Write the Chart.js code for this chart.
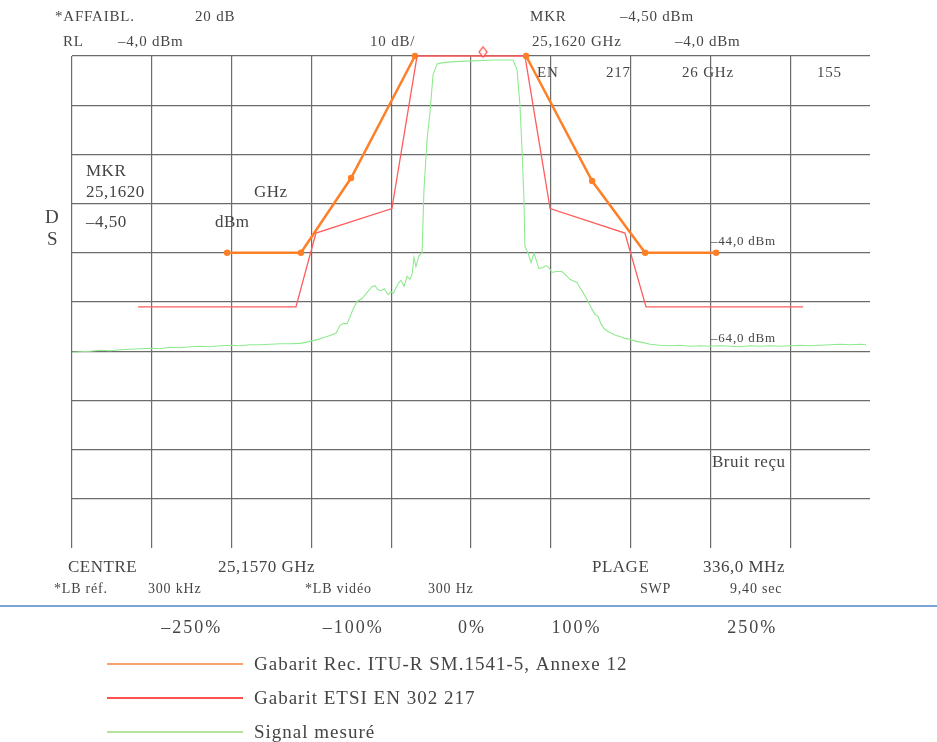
<!DOCTYPE html>
<html>
<head>
<meta charset="utf-8">
<script src="https://cdn.jsdelivr.net/npm/chart.js@4.4.0/dist/chart.umd.min.js"></script>
<style>
  html, body { margin: 0; padding: 0; background: #fff; }
  #wrap { position: relative; width: 937px; height: 742px; }
</style>
</head>
<body>
<div id="wrap"><canvas id="spectrum"></canvas></div>
<script>
// frequency offset from centre (MHz), level (dBm)
const sm1541Freq  = [-102.7, -71.6, -50.5, -23.6, 0, 23.2, 51.0, 73.3, 103.2];
const sm1541Level = [-44, -44, -28.8, -4, null, -4, -29.4, -44, -44];

const etsiFreq  = [-140.2, -73.7, -65.3, -33.3, -22.7, 22.7, 33.3, 64.8, 73.7, 139.8];
const etsiLevel = [-55, -55, -40, -35, -4, -4, -35, -40, -55, -55];

const signalFreq = [
  -168.0, -164.6, -160.4, -156.2, -152.0, -147.8, -143.6, -139.4, -134.3, -131.0,
  -126.8, -122.5, -118.3, -114.1, -109.9, -105.7, -100.6, -97.3, -93.1, -88.9,
  -84.6, -80.4, -76.2, -72.0, -69.5, -67.0, -64.4, -61.9, -59.4, -56.8,
  -55.2, -53.9, -52.2, -51.0, -49.7, -48.0, -45.9, -43.8, -41.7, -40.4,
  -39.2, -37.9, -36.6, -34.9, -33.7, -32.8, -31.6, -30.3, -29.5, -28.2,
  -26.9, -25.7, -24.8, -24.0, -23.2, -21.9, -20.6, -19.8, -18.5, -17.3,
  -16.0, -14.3, -12.2, -8.8, -4.6, 0, 5.1, 10.1, 14.3, 17.7,
  19.4, 20.6, 21.5, 22.3, 22.7, 24.0, 25.3, 26.5, 27.8, 28.6,
  30.3, 31.6, 32.8, 34.1, 35.8, 38.3, 40.0, 41.7, 43.4, 44.6,
  45.9, 47.2, 48.4, 49.7, 51.0, 52.2, 53.5, 54.7, 56.0, 57.7,
  59.4, 61.1, 62.7, 64.8, 67.0, 69.5, 72.0, 75.4, 79.6, 83.8,
  88.0, 92.2, 96.4, 100.6, 104.9, 109.1, 113.3, 117.5, 121.7, 125.9,
  130.1, 134.3, 138.5, 142.8, 147.0, 151.2, 155.4, 159.6, 163.8, 166.3
];
const signalLevel = [
  -64.2, -64.1, -64.0, -63.8, -63.9, -63.7, -63.6, -63.5, -63.4, -63.5,
  -63.2, -63.3, -63.1, -63.0, -63.1, -62.9, -62.8, -62.9, -62.7, -62.7,
  -62.6, -62.5, -62.5, -62.4, -62.2, -61.9, -61.6, -61.2, -60.8, -60.3,
  -58.8, -58.4, -58.4, -57.1, -55.5, -53.9, -53.3, -52.1, -50.9, -50.7,
  -51.5, -51.7, -51.3, -52.5, -51.9, -52.3, -51.1, -50.0, -49.6, -50.8,
  -48.8, -49.4, -48.4, -45.0, -46.8, -44.6, -44.0, -31.2, -21.0, -15.6,
  -7.9, -5.6, -5.4, -5.2, -5.1, -5.0, -4.9, -4.8, -4.8, -4.8,
  -6.8, -13.9, -23.1, -33.2, -42.7, -44.0, -46.0, -44.0, -46.0, -47.2,
  -47.0, -46.6, -47.0, -48.0, -47.8, -47.8, -48.6, -49.4, -49.8, -50.0,
  -51.1, -52.1, -53.1, -54.3, -55.5, -56.5, -56.9, -58.4, -59.4, -60.0,
  -60.4, -60.8, -61.0, -61.4, -61.6, -62.0, -62.2, -62.6, -62.8, -62.9,
  -62.8, -63.0, -62.9, -63.0, -62.9, -63.0, -63.1, -62.9, -63.0, -62.9,
  -63.0, -62.9, -62.8, -62.9, -62.8, -62.7, -62.6, -62.7, -62.6, -62.7
];

const markerFreq  = [5.1];
const markerLevel = [-4.5];

// 10 divisions of 33,6 MHz and 10 dB/div, RL -4 dBm
const xGridTicks = [-168, -134.4, -100.8, -67.2, -33.6, 0, 33.6, 67.2, 100.8, 134.4];
const yGridTicks = [-4, -14, -24, -34, -44, -54, -64, -74, -84, -94];

const pctLabels = ['–250%', '–100%', '0%', '100%', '250%'];
const pctFreq   = [-118, -50, 0, 44, 118];

const seriesLabels = [
  'Gabarit Rec. ITU-R SM.1541-5, Annexe 12',
  'Gabarit ETSI EN 302 217',
  'Signal mesuré'
];

const pts = (xs, ys) => xs.map((x, i) => ({x: x, y: ys[i]}));

// marker diamond drawn above the trace point
const markerImg = document.createElement('canvas');
markerImg.width = 12;
markerImg.height = 26;
(function () {
  const c = markerImg.getContext('2d');
  c.beginPath();
  c.moveTo(6, 1.5);
  c.lineTo(10, 6.5);
  c.lineTo(6, 11.5);
  c.lineTo(2, 6.5);
  c.closePath();
  c.fillStyle = '#fff';
  c.fill();
  c.strokeStyle = '#ff3b3b';
  c.lineWidth = 1.2;
  c.stroke();
})();

const textColor = '#454545';
const serif = '"Liberation Serif", "Times New Roman", serif';

const notes = [
  ['*AFFAIBL.', 55, 21, 15], ['20 dB', 195, 21, 15], ['MKR', 530, 21, 15], ['–4,50 dBm', 620, 21, 15],
  ['RL', 63, 46, 15], ['–4,0 dBm', 118, 46, 15], ['10 dB/', 370, 46, 15],
  ['25,1620 GHz', 532, 46, 15], ['–4,0 dBm', 675, 46, 15],
  ['EN', 537, 77, 15], ['217', 606, 77, 15], ['26 GHz', 682, 77, 15], ['155', 817, 77, 15],
  ['MKR', 86, 176, 17], ['25,1620', 86, 197, 17], ['GHz', 254, 197, 17],
  ['–4,50', 86, 227, 17], ['dBm', 215, 227, 17],
  ['D', 45, 223, 19], ['S', 47, 245, 19],
  ['–44,0 dBm', 711, 245, 13], ['–64,0 dBm', 711, 342, 13],
  ['Bruit reçu', 712, 467, 17],
  ['CENTRE', 68, 572, 17], ['25,1570 GHz', 218, 572, 17], ['PLAGE', 592, 572, 17], ['336,0 MHz', 703, 572, 17],
  ['*LB réf.', 54, 593, 14], ['300 kHz', 148, 593, 14], ['*LB vidéo', 305, 593, 14],
  ['300 Hz', 428, 593, 14], ['SWP', 640, 593, 14], ['9,40 sec', 730, 593, 14]
];

const legendColors = ['#f6a46c', '#ff4f4f', '#b6e2a0'];

const overlay = {
  id: 'overlay',
  afterDraw(chart) {
    const ctx = chart.ctx;
    ctx.save();
    ctx.fillStyle = textColor;
    ctx.textBaseline = 'alphabetic';
    ctx.textAlign = 'left';

    notes.forEach(n => {
      ctx.font = n[3] + 'px ' + serif;
      ctx.letterSpacing = n[3] >= 17 ? '0.5px' : '0.8px';
      ctx.fillText(n[0], n[1], n[2]);
    });

    // separator
    ctx.strokeStyle = '#4f86c6';
    ctx.lineWidth = 1.6;
    ctx.beginPath();
    ctx.moveTo(0, 606);
    ctx.lineTo(937, 606);
    ctx.stroke();

    // percent labels
    const xs = chart.scales.x;
    ctx.font = '18px ' + serif;
    ctx.letterSpacing = '2px';
    ctx.textAlign = 'center';
    pctLabels.forEach((t, i) => {
      ctx.fillText(t, xs.getPixelForValue(pctFreq[i]) + 1, 633);
    });

    // legend
    ctx.textAlign = 'left';
    ctx.font = '19px ' + serif;
    ctx.letterSpacing = '1px';
    seriesLabels.forEach((t, i) => {
      const y = 664 + i * 34;
      ctx.strokeStyle = legendColors[i];
      ctx.lineWidth = 2.2;
      ctx.beginPath();
      ctx.moveTo(107, y);
      ctx.lineTo(243, y);
      ctx.stroke();
      ctx.fillStyle = textColor;
      ctx.fillText(t, 254, y + 6);
    });
    ctx.restore();
  }
};

new Chart(document.getElementById('spectrum'), {
  type: 'line',
  data: {
    datasets: [
      {
        label: seriesLabels[0],
        data: pts(sm1541Freq, sm1541Level),
        borderColor: '#ff7f27',
        backgroundColor: '#ff7f27',
        borderWidth: 2.5,
        pointRadius: 3.2,
        pointBorderWidth: 0,
        spanGaps: false,
        order: 1,
        clip: 6
      },
      {
        label: seriesLabels[1],
        data: pts(etsiFreq, etsiLevel),
        borderColor: '#ff5c5c',
        borderWidth: 1.3,
        pointRadius: 0,
        order: 2,
        clip: 6
      },
      {
        label: seriesLabels[2],
        data: pts(signalFreq, signalLevel),
        borderColor: '#8fea8f',
        borderWidth: 1.1,
        pointRadius: 0,
        order: 3,
        clip: 6
      },
      {
        label: 'MKR',
        data: pts(markerFreq, markerLevel),
        showLine: false,
        pointStyle: markerImg,
        pointRadius: 6,
        order: 0,
        clip: false
      }
    ]
  },
  options: {
    responsive: true,
    maintainAspectRatio: false,
    animation: false,
    layout: { padding: { left: 72, top: 56, right: 67, bottom: 194 } },
    plugins: {
      legend: { display: false },
      tooltip: { enabled: false }
    },
    scales: {
      x: {
        type: 'linear',
        min: -168,
        max: 168,
        afterBuildTicks: axis => { axis.ticks = xGridTicks.map(v => ({value: v})); },
        ticks: { display: false },
        grid: { color: '#6b6b6b', lineWidth: 1.2, drawTicks: false },
        border: { display: false }
      },
      y: {
        type: 'linear',
        min: -104,
        max: -4,
        afterBuildTicks: axis => { axis.ticks = yGridTicks.map(v => ({value: v})); },
        ticks: { display: false },
        grid: { color: '#6b6b6b', lineWidth: 1.2, drawTicks: false },
        border: { display: false }
      }
    }
  },
  plugins: [overlay]
});
</script>
</body>
</html>
